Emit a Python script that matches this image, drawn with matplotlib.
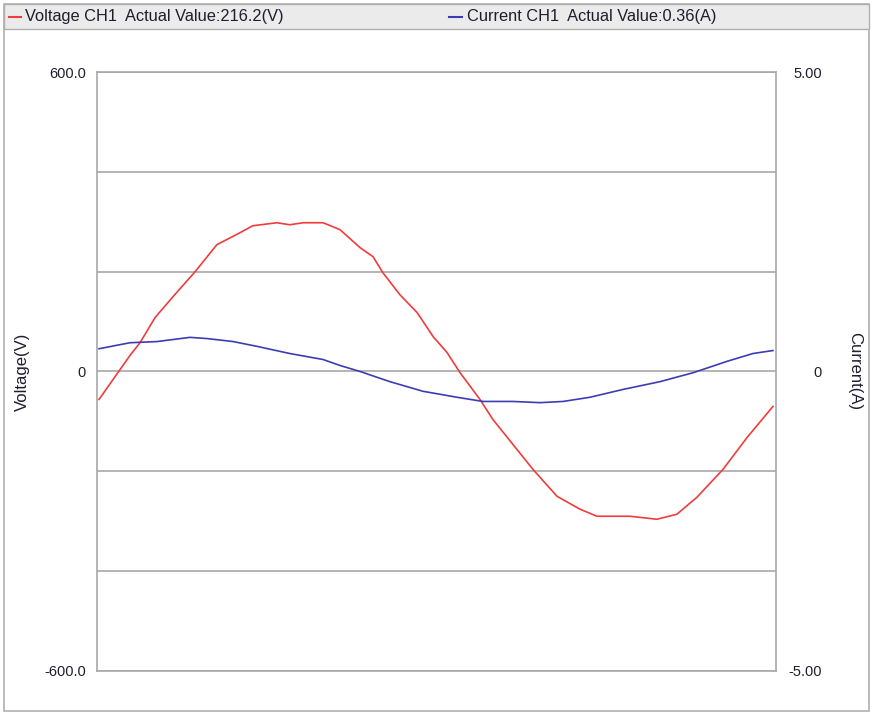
import matplotlib
matplotlib.use("Agg")
import matplotlib.pyplot as plt
from matplotlib.patches import Rectangle
from matplotlib.lines import Line2D

plt.rcParams['font.family'] = ['Liberation Sans', 'DejaVu Sans']

# time axis (ms) of the sampled points
volt_t = [0.06, 0.38, 0.68, 0.97, 1.27, 1.71, 2.24, 2.89, 3.53, 4.21, 4.59, 5.30,
          5.68, 6.07, 6.66, 7.16, 7.75, 8.13, 8.42, 8.92, 9.43, 9.90, 10.31, 10.69,
          11.28, 11.66, 12.84, 13.55, 14.23, 14.73, 15.70, 16.49, 17.08, 17.67,
          18.44, 19.15, 19.91]
volt_v = [-56, -25, 4, 32, 58, 108, 150, 200, 254, 278, 292, 298,
          294, 298, 298, 284, 248, 230, 198, 154, 118, 70, 38, -2,
          -56, -96, -196, -250, -276, -290, -290, -296, -286, -252,
          -196, -132, -70]

curr_t = [0.06, 0.97, 1.77, 2.74, 3.24, 4.01, 4.71, 5.68, 6.66, 7.16, 7.75, 8.63,
          9.60, 10.60, 11.37, 12.25, 13.05, 13.73, 14.52, 15.49, 16.58, 17.56,
          18.56, 19.32, 19.91]
curr_a = [0.38, 0.48, 0.50, 0.57, 0.55, 0.50, 0.42, 0.30, 0.20, 0.10, 0.0, -0.17,
          -0.33, -0.43, -0.50, -0.50, -0.52, -0.50, -0.43, -0.30, -0.17, -0.02,
          0.17, 0.30, 0.35]

volt_ticks = [-600, -400, -200, 0, 200, 400, 600]
volt_labels = ['-600.0', '', '', '0', '', '', '600.0']
curr_ticks = [-5, 0, 5]
curr_labels = ['-5.00', '0', '5.00']

legend_v = 'Voltage CH1  Actual Value:216.2(V)'
legend_c = 'Current CH1  Actual Value:0.36(A)'

RED = '#f03c3c'
BLUE = '#3c3cb4'
GRID = '#a8a8a8'
TXT = '#1e1e2e'

W, H = 874, 713
fig = plt.figure(figsize=(W / 100, H / 100), dpi=100)
fig.patch.set_facecolor('white')

# outer border and header bar
fig.patches.append(Rectangle((4 / W, 1 - 711 / H), 865 / W, 707 / H, transform=fig.transFigure,
                             fill=False, edgecolor='#b0b0b0', lw=1.2, zorder=0))
fig.patches.append(Rectangle((4 / W, 1 - 29 / H), 865 / W, 25 / H, transform=fig.transFigure,
                             facecolor='#ebebeb', edgecolor='#b0b0b0', lw=1.0, zorder=0))

# header legend
yh = 1 - 17 / H
fig.add_artist(Line2D([9 / W, 21 / W], [yh, yh], color=RED, lw=1.5, transform=fig.transFigure))
fig.text(25 / W, yh, legend_v, fontsize=11.8, color=TXT, va='center', ha='left')
fig.add_artist(Line2D([449 / W, 462 / W], [yh, yh], color=BLUE, lw=1.5, transform=fig.transFigure))
fig.text(467 / W, yh, legend_c, fontsize=11.8, color=TXT, va='center', ha='left')

ax = fig.add_axes([97 / W, 1 - 671 / H, 679 / W, 599 / H])
ax.set_xlim(0, 20)
ax.set_ylim(-600, 600)
ax.set_yticks(volt_ticks)
ax.set_yticklabels(volt_labels)
ax.set_xticks([])
ax.grid(axis='y', color=GRID, lw=1.2)
ax.set_axisbelow(True)
for s in ax.spines.values():
    s.set_color(GRID)
    s.set_linewidth(1.2)
ax.tick_params(axis='y', length=0, pad=8, labelsize=10.5, labelcolor=TXT)
ax.set_ylabel('Voltage(V)', fontsize=12, color=TXT, va='center')
ax.yaxis.set_label_coords(-0.110, 0.5)

ax2 = ax.twinx()
ax2.set_ylim(-5, 5)
ax2.set_yticks(curr_ticks)
ax2.set_yticklabels(curr_labels)
ax2.tick_params(axis='y', length=0, pad=33, labelsize=10.5, labelcolor=TXT)
for lbl in ax2.get_yticklabels():
    lbl.set_horizontalalignment('right')
for s in ax2.spines.values():
    s.set_visible(False)
ax2.set_ylabel('Current(A)', fontsize=12, color=TXT, rotation=270, va='center')
ax2.yaxis.set_label_coords(1.116, 0.5)

ax.plot(volt_t, volt_v, color=RED, lw=1.2, zorder=3)
ax2.plot(curr_t, curr_a, color=BLUE, lw=1.2, zorder=3)

fig.savefig('out.png', dpi=100)
